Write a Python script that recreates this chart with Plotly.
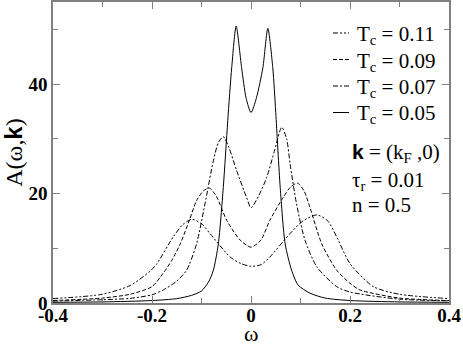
import plotly.graph_objects as go

# spectral function A(w, k) at k = (kF, 0)
w_011 = [-0.4, -0.3, -0.244, -0.204, -0.19, -0.157, -0.138, -0.12, -0.1, -0.083, -0.042, -0.02, 0.0,
         0.02, 0.038, 0.079, 0.105, 0.133, 0.155, 0.173, 0.2, 0.247, 0.3, 0.4]
a_011 = [0.8, 1.6, 3.2, 5.8, 7.2, 12.1, 14.3, 15.3, 14.5, 12.7, 8.4, 7.2, 6.7,
         7.0, 8.4, 12.7, 15.0, 16.1, 15.0, 12.1, 7.2, 3.0, 1.6, 0.8]

w_009 = [-0.4, -0.3, -0.244, -0.2, -0.177, -0.16, -0.143, -0.125, -0.11, -0.096, -0.084, -0.07, -0.049, -0.022, 0.0,
         0.02, 0.038, 0.065, 0.08, 0.094, 0.107, 0.119, 0.143, 0.173, 0.2, 0.22, 0.3, 0.4]
a_009 = [0.45, 0.9, 1.6, 3.0, 5.5, 7.8, 10.8, 15.0, 18.7, 20.5, 21.0, 19.5, 15.1, 11.5, 10.2,
         11.5, 15.1, 19.3, 21.2, 21.9, 20.5, 17.5, 10.8, 6.0, 3.6, 2.4, 0.9, 0.45]

w_007 = [-0.4, -0.3, -0.244, -0.2, -0.177, -0.15, -0.13, -0.11, -0.093, -0.076, -0.066, -0.056, -0.045, -0.029, -0.009, 0.0,
         0.015, 0.032, 0.048, 0.062, 0.072, 0.079, 0.092, 0.109, 0.133, 0.173, 0.2, 0.3, 0.4]
a_007 = [0.35, 0.6, 0.85, 1.5, 2.4, 4.0, 6.0, 10.8, 18.1, 26.0, 29.3, 30.4, 28.5, 24.2, 19.3, 17.4,
         19.5, 23.0, 28.0, 32.1, 30.0, 25.4, 18.1, 11.5, 6.6, 3.0, 2.0, 0.7, 0.4]

w_005 = [-0.4, -0.3, -0.2, -0.15, -0.12, -0.1, -0.086, -0.076, -0.066, -0.056, -0.047, -0.039, -0.03, -0.019, -0.01, 0.0,
         0.011, 0.024, 0.034, 0.044, 0.05, 0.059, 0.069, 0.082, 0.095, 0.119, 0.15, 0.2, 0.3, 0.4]
a_005 = [0.12, 0.2, 0.45, 0.8, 1.4, 2.2, 3.8, 6.0, 10.8, 21.1, 33.3, 43.0, 50.6, 43.0, 37.5, 34.8,
         37.5, 43.0, 50.2, 43.0, 34.8, 21.1, 10.8, 6.0, 3.3, 1.8, 0.9, 0.45, 0.2, 0.12]

tc_labels = ["0.11", "0.09", "0.07", "0.05"]
series = [w_011, w_009, w_007, w_005]
values = [a_011, a_009, a_007, a_005]
dashes = ["5px,2px,2px,2px,2px,2px", "4px,2px", "5px,2px,2px,2px", "solid"]

serif = "Liberation Serif"
sans_k = '<span style="font-family:Liberation Sans"><b>k</b></span>'
fig = go.Figure()
for tc, w, a, dash in zip(tc_labels, series, values, dashes):
    fig.add_trace(go.Scatter(x=w, y=a, mode="lines", name="T<sub>c</sub> = " + tc, showlegend=False,
                             line=dict(color="black", width=1, dash=dash, shape="spline", smoothing=0.7)))

axis_common = dict(showline=True, linecolor="#808080", linewidth=1.5, mirror="allticks",
                   ticks="inside", ticklen=7, tickcolor="#808080", showgrid=False, zeroline=False,
                   automargin=False,
                   tickfont=dict(family=serif, size=19, color="black", weight="bold"))

fig.update_xaxes(range=[-0.4, 0.4], tickvals=[-0.4, -0.2, 0, 0.2, 0.4],
                 ticktext=["-0.4", "-0.2", "0", "0.2", "0.4"], ticklabelstandoff=-6,
                 minor=dict(dtick=0.1, ticklen=5, ticks="inside", tickcolor="#808080"),
                 **axis_common)
fig.update_yaxes(range=[0, 55], tickvals=[0, 20, 40],
                 minor=dict(dtick=10, ticklen=5, ticks="inside", tickcolor="#808080"),
                 title=dict(text="A(ω," + sans_k + ")",
                            font=dict(family=serif, size=24, color="black"), standoff=4),
                 **axis_common)

# hand-made legend (short line samples as in the original)
x0, y0, w0, h0 = 53, 2, 396, 301
def px(x):
    return (x - x0) / w0
def py(y):
    return (y0 + h0 - y) / h0

for i, (tc, dash) in enumerate(zip(tc_labels, dashes)):
    yc = 33 + 26.5 * i
    fig.add_shape(type="line", xref="paper", yref="paper", x0=px(333), x1=px(349), y0=py(yc), y1=py(yc),
                  line=dict(color="black", width=1, dash=dash))
    fig.add_annotation(x=px(355), y=py(yc + 2), xref="paper", yref="paper", xanchor="left", yanchor="middle",
                       showarrow=False, text="T<sub>c</sub> = " + tc,
                       font=dict(family=serif, size=21, color="black"))

fig.add_annotation(x=px(350), y=py(153), xref="paper", yref="paper", xanchor="left", yanchor="middle",
                   showarrow=False, text=sans_k + " = (k<sub>F</sub> ,0)",
                   font=dict(family=serif, size=21, color="black"))
fig.add_annotation(x=px(350), y=py(181), xref="paper", yref="paper", xanchor="left", yanchor="middle",
                   showarrow=False, text="τ<sub>r</sub> = 0.01",
                   font=dict(family=serif, size=21, color="black"))
fig.add_annotation(x=px(350), y=py(205), xref="paper", yref="paper", xanchor="left", yanchor="middle",
                   showarrow=False, text="n = 0.5",
                   font=dict(family=serif, size=21, color="black"))
# x-axis title, placed closer to the tick labels than plotly's title allows
fig.add_annotation(x=0.5, y=py(334), xref="paper", yref="paper", xanchor="center", yanchor="middle",
                   showarrow=False, text="ω", font=dict(family=serif, size=22, color="black"))

fig.update_layout(
    width=463, height=349,
    margin=dict(l=53, r=14, t=2, b=46),
    paper_bgcolor="white", plot_bgcolor="white",
    showlegend=False,
)

# the page's default 8px body margin would shift the whole figure
fig.write_html("out.html", config={"displayModeBar": False},
               post_script="document.body.style.margin='0';")
